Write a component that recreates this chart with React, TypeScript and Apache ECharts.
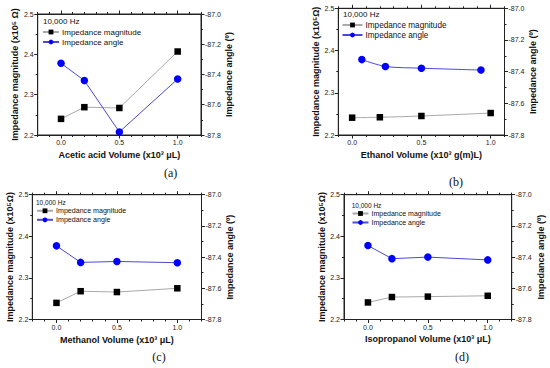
import React, { useEffect, useRef } from 'react';
import * as echarts from 'echarts';

// ---- data ----
const xMajorTicks = [0, 0.5, 1.0];
const seriesNames = ['Impedance magnitude', 'Impedance angle'];
const freqLabel = '10,000 Hz';
const captions = ['(a)', '(b)', '(c)', '(d)'];
const xNames = [
  'Acetic acid Volume (x10³ μL)',
  'Ethanol Volume (x10³ g(m)L)',
  'Methanol Volume (x10³ μL)',
  'Isopropanol Volume (x10³ μL)',
];
const yNames = [
  'Impedance magnitude (x10⁵ Ω)',
  'Impedance magnitude (x10⁵Ω)',
  'Impedance magnitude (x10⁵Ω)',
  'Impedance magnitude (x10⁵Ω)',
];
const rNames = ['Impedance angle (º)', 'Impedance angle (º)', 'Impedance angle (º)', 'Impedance angle (º)'];

// (a) Acetic acid
const volA = [0, 0.2, 0.5, 1.0];
const magA = [2.24, 2.269, 2.267, 2.407];
const angA = [-87.326, -87.44, -87.78, -87.43];
// (b) Ethanol
const volMagB = [0, 0.2, 0.5, 1.0];
const magB = [2.241, 2.242, 2.245, 2.252];
const volAngB = [0.07, 0.24, 0.5, 0.93];
const angB = [-87.324, -87.367, -87.378, -87.39];
// (c) Methanol
const volC = [0, 0.2, 0.5, 1.0];
const magC = [2.24, 2.268, 2.266, 2.275];
const angC = [-87.328, -87.434, -87.428, -87.436];
// (d) Isopropanol
const volD = [0, 0.2, 0.5, 1.0];
const magD = [2.241, 2.254, 2.255, 2.257];
const angD = [-87.326, -87.41, -87.4, -87.418];

const FONT = "'Liberation Sans', Arial, sans-serif";
const SERIF = "'Liberation Serif', 'Times New Roman', serif";
const AX = '#222';

const layout = [
  { grid: { left: 37.7, top: 14, width: 163.3, height: 121 }, xMin: -0.2, xMax: 1.2, xGap: 15, yGap: 18, rGap: 21,
    legend: { left: 42, top: 28 }, hz: { x: 43, y: 22.7, size: 8 }, legFont: 8, iconW: 16, cap: { x: 170.7, y: 173 }, smooth: false },
  { grid: { left: 338.3, top: 8.3, width: 166.2, height: 126.7 }, xMin: -0.1, xMax: 1.1, xGap: 15, yGap: 15, rGap: 22,
    legend: { left: 341.5, top: 21 }, hz: { x: 343, y: 15, size: 8 }, legFont: 8.2, iconW: 20, cap: { x: 456, y: 181.7 }, smooth: true },
  { grid: { left: 32.3, top: 194.7, width: 169.2, height: 124.8 }, xMin: -0.2, xMax: 1.2, xGap: 16, yGap: 14, rGap: 23,
    legend: { left: 36, top: 207.3 }, hz: { x: 36, y: 203.3, size: 6.5 }, legFont: 7.1, iconW: 16, cap: { x: 159, y: 356.7 }, smooth: false },
  { grid: { left: 344, top: 194.7, width: 167.7, height: 124.8 }, xMin: -0.2, xMax: 1.2, xGap: 15, yGap: 15, rGap: 25,
    legend: { left: 351.5, top: 210 }, hz: { x: 351.7, y: 206.7, size: 6.5 }, legFont: 7, iconW: 16, cap: { x: 462, y: 356.7 }, smooth: false },
];

const panelData = [
  { magX: volA, mag: magA, angX: volA, ang: angA },
  { magX: volMagB, mag: magB, angX: volAngB, ang: angB },
  { magX: volC, mag: magC, angX: volC, ang: angC },
  { magX: volD, mag: magD, angX: volD, ang: angD },
];

function buildOption() {
  const grid: any[] = [];
  const xAxis: any[] = [];
  const yAxis: any[] = [];
  const series: any[] = [];
  const legend: any[] = [];
  const graphic: any[] = [];

  layout.forEach((L, i) => {
    const D = panelData[i];
    grid.push({ ...L.grid, show: true, borderColor: AX, borderWidth: 1, backgroundColor: 'transparent', containLabel: false });
    const base = { gridIndex: i, type: 'value', min: L.xMin, max: L.xMax, splitLine: { show: false } };
    // bottom main axis
    xAxis.push({
      ...base, position: 'bottom',
      axisLine: { show: true, onZero: false, lineStyle: { color: AX, width: 1 } },
      axisTick: { show: true, inside: false, length: 3.5, customValues: xMajorTicks, lineStyle: { color: AX } },
      axisLabel: { show: true, customValues: xMajorTicks, formatter: (v: number) => v.toFixed(1), fontSize: 7, color: '#222', fontFamily: FONT, margin: 4 },
      name: xNames[i], nameLocation: 'middle', nameGap: L.xGap,
      nameTextStyle: { fontSize: 9, fontWeight: 'bold', color: '#111', fontFamily: FONT },
    });
    // bottom minor ticks
    xAxis.push({
      ...base, position: 'bottom', interval: 0.1,
      axisLine: { show: false, onZero: false },
      axisTick: { show: true, length: 2, lineStyle: { color: AX } },
      axisLabel: { show: false },
    });
    // top mirror
    xAxis.push({
      ...base, position: 'top',
      axisLine: { show: true, onZero: false, lineStyle: { color: AX, width: 1 } },
      axisTick: { show: true, length: 3.5, customValues: xMajorTicks, lineStyle: { color: AX } },
      axisLabel: { show: false },
    });
    xAxis.push({
      ...base, position: 'top', interval: 0.1,
      axisLine: { show: false, onZero: false },
      axisTick: { show: true, length: 2, lineStyle: { color: AX } },
      axisLabel: { show: false },
    });
    yAxis.push({
      gridIndex: i, type: 'value', position: 'left', min: 2.2, max: 2.5, interval: 0.1,
      splitLine: { show: false },
      axisLine: { show: true, onZero: false, lineStyle: { color: AX, width: 1 } },
      axisTick: { show: true, length: 3.5, lineStyle: { color: AX } },
      minorTick: { show: true, splitNumber: 2, length: 2, lineStyle: { color: AX } },
      axisLabel: { formatter: (v: number) => v.toFixed(1), fontSize: 7, color: '#222', fontFamily: FONT, margin: 4 },
      name: yNames[i], nameLocation: 'middle', nameGap: L.yGap, nameRotate: 90,
      nameTextStyle: { fontSize: 9, fontWeight: 'bold', color: '#111', fontFamily: FONT },
    });
    yAxis.push({
      gridIndex: i, type: 'value', position: 'right', min: -87.8, max: -87.0, interval: 0.2,
      splitLine: { show: false },
      axisLine: { show: true, onZero: false, lineStyle: { color: AX, width: 1 } },
      axisTick: { show: true, length: 3.5, lineStyle: { color: AX } },
      minorTick: { show: true, splitNumber: 2, length: 2, lineStyle: { color: AX } },
      axisLabel: { formatter: (v: number) => v.toFixed(1), fontSize: 7, color: '#222', fontFamily: FONT, margin: 4 },
      name: rNames[i], nameLocation: 'middle', nameGap: L.rGap, nameRotate: 90,
      nameTextStyle: { fontSize: 9, fontWeight: 'bold', color: '#111', fontFamily: FONT },
    });
    series.push({
      type: 'line', name: seriesNames[0], xAxisIndex: i * 4, yAxisIndex: i * 2,
      data: D.magX.map((x, k) => [x, D.mag[k]]),
      symbol: 'rect', symbolSize: 6.5, smooth: L.smooth ? 0.3 : false,
      itemStyle: { color: '#000' }, lineStyle: { color: '#a9a9a9', width: 1 },
    });
    series.push({
      type: 'line', name: seriesNames[1], xAxisIndex: i * 4, yAxisIndex: i * 2 + 1,
      data: D.angX.map((x, k) => [x, D.ang[k]]),
      symbol: 'circle', symbolSize: 7.5, smooth: L.smooth ? 0.3 : false,
      itemStyle: { color: '#0000ff' }, lineStyle: { color: '#4a4ad6', width: 1 },
    });
    legend.push({
      left: L.legend.left, top: L.legend.top, orient: 'vertical', itemWidth: L.iconW, itemHeight: 6,
      itemGap: 2, padding: 0, selectedMode: false,
      data: seriesNames,
      textStyle: { fontSize: L.legFont, color: '#111', fontFamily: FONT, padding: [0, 0, 0, -2] },
    });
    graphic.push({
      type: 'text', left: L.hz.x, top: L.hz.y - L.hz.size / 2 - 1,
      style: { text: freqLabel, fontSize: L.hz.size, fill: '#111', fontFamily: FONT },
    });
    graphic.push({
      type: 'text', x: L.cap.x, y: L.cap.y,
      style: { text: captions[i], fontSize: 12, fill: '#111', fontFamily: SERIF, align: 'center', verticalAlign: 'middle' },
    });
  });

  return { animation: false, backgroundColor: '#fff', grid, xAxis, yAxis, series, legend, graphic };
}

export default function App() {
  const ref = useRef<HTMLDivElement>(null);
  useEffect(() => {
    if (!ref.current) return;
    const chart = echarts.init(ref.current, undefined, { renderer: 'svg' });
    chart.setOption(buildOption() as any);
    return () => chart.dispose();
  }, []);
  return <div ref={ref} style={{ position: 'absolute', left: 0, top: 0, width: 550, height: 368 }} />;
}
